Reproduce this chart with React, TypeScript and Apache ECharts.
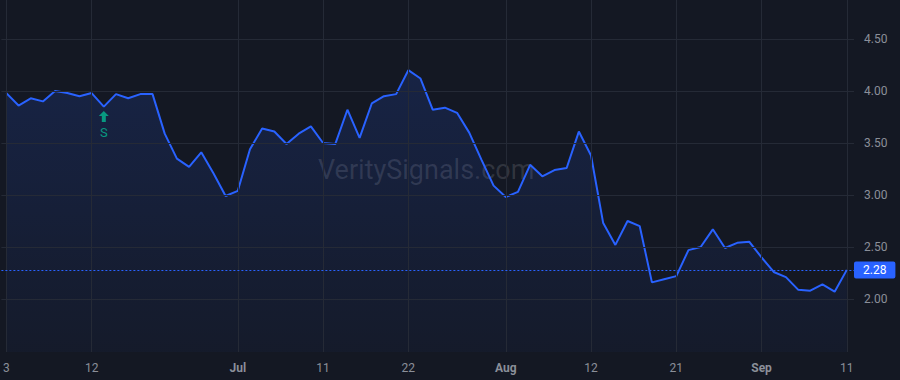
import React, { useEffect, useRef } from "react";
import * as echarts from "echarts";

// Daily closing values (Jun 3 → Sep 11), one per trading day
const values: number[] = [
  3.98, 3.86, 3.93, 3.90, 4.00, 3.98, 3.95, 3.98, 3.85, 3.97, 3.93, 3.97, 3.97,
  3.59, 3.35, 3.27, 3.41, 3.21, 2.99, 3.04, 3.44, 3.64, 3.61, 3.49, 3.59,
  3.66, 3.50, 3.49, 3.82, 3.55, 3.88, 3.95, 3.97, 4.20, 4.12, 3.82, 3.84, 3.79,
  3.60, 3.34, 3.09, 2.98, 3.03, 3.29, 3.18, 3.24, 3.26, 3.61, 3.38,
  2.73, 2.52, 2.75, 2.70, 2.16, 2.19, 2.22, 2.47, 2.50, 2.67, 2.49, 2.54, 2.55,
  2.40, 2.26, 2.21, 2.09, 2.08, 2.14, 2.07, 2.28,
];

// x-axis tick positions (trading-day index) and their labels
const xTickIndex: number[] = [0, 7, 19, 26, 33, 41, 48, 55, 62, 69];
const xTickLabels: string[] = ["3", "12", "Jul", "11", "22", "Aug", "12", "21", "Sep", "11"];
const monthLabels: string[] = ["Jul", "Aug", "Sep"];

// y-axis ticks
const yTicks: number[] = [2.0, 2.5, 3.0, 3.5, 4.0, 4.5];

// signal marker
const signalIndex = 8;
const signalLabel = "S";

const lastValue = values[values.length - 1];

const BG = "#141823";
const GRID = "#252a36";
const BLUE = "#2962ff";
const TEXT = "#8b8f99";
const GREEN = "#089981";

export default function App() {
  const ref = useRef<HTMLDivElement>(null);

  useEffect(() => {
    if (!ref.current) return;
    const chart = echarts.init(ref.current, undefined, { renderer: "svg" });
    const seriesData = values.map((v, i) => [i, v]);

    chart.setOption({
      animation: false,
      backgroundColor: BG,
      textStyle: { fontFamily: "Roboto, 'Liberation Sans', sans-serif" },
      grid: { left: 0, right: 46, top: 0, bottom: 28, containLabel: false },
      xAxis: {
        type: "value",
        min: -0.41,
        max: 69.59,
        axisLine: { show: false },
        axisTick: { show: false },
        splitLine: { show: false },
        axisLabel: {
          customValues: xTickIndex,
          showMinLabel: true,
          showMaxLabel: true,
          margin: 10,
          color: TEXT,
          fontSize: 12,
          formatter: (v: number) => {
            const k = xTickIndex.indexOf(Math.round(v));
            if (k < 0) return "";
            const t = xTickLabels[k];
            return monthLabels.includes(t) ? "{b|" + t + "}" : t;
          },
          rich: { b: { fontWeight: "bold", color: TEXT, fontSize: 12 } },
        },
      },
      yAxis: {
        type: "value",
        position: "right",
        min: 1.4904,
        max: 4.875,
        axisLine: { show: false },
        axisTick: { show: false },
        splitLine: { show: false },
        axisLabel: {
          customValues: yTicks,
          margin: 10,
          color: TEXT,
          fontSize: 12,
          formatter: (v: number) => v.toFixed(2),
        },
      },
      graphic: [
        {
          type: "text",
          left: 318,
          top: 156,
          silent: true,
          z: 0,
          style: {
            text: "VeritySignals.com",
            fill: "rgba(255,255,255,0.13)",
            font: "27px Roboto, 'Liberation Sans', sans-serif",
          },
        },
      ],
      series: [
        {
          name: "grid",
          type: "line",
          z: 1,
          data: seriesData,
          symbol: "none",
          silent: true,
          lineStyle: { opacity: 0 },
          markLine: {
            silent: true,
            symbol: "none",
            label: { show: false },
            lineStyle: { color: GRID, width: 1, type: "solid" },
            data: [
              ...yTicks.map((y) => ({ yAxis: y })),
              ...xTickIndex.map((x) => ({ xAxis: x })),
            ],
          },
        },
        {
          name: "value",
          type: "line",
          z: 3,
          data: seriesData,
          symbol: "none",
          lineStyle: { color: BLUE, width: 2 },
          areaStyle: {
            color: new echarts.graphic.LinearGradient(0, 0, 0, 1, [
              { offset: 0, color: "rgba(41,98,255,0.22)" },
              { offset: 1, color: "rgba(41,98,255,0.05)" },
            ]),
          },
          markLine: {
            silent: true,
            symbol: "none",
            lineStyle: { color: BLUE, width: 1, type: [2, 2] },
            label: {
              show: true,
              position: "end",
              distance: 0,
              formatter: lastValue.toFixed(2),
              backgroundColor: BLUE,
              color: "#ffffff",
              fontSize: 12,
              padding: [3, 9, 2, 9],
              borderRadius: 2,
            },
            data: [{ yAxis: lastValue }],
          },
          markPoint: {
            silent: true,
            data: [
              {
                coord: [signalIndex, values[signalIndex]],
                symbol: "path://M5 0 L10 5 L7 5 L7 11 L3 11 L3 5 L0 5 Z",
                symbolSize: [10, 11],
                symbolOffset: [0, 10],
                itemStyle: { color: GREEN },
                label: {
                  show: true,
                  position: "bottom",
                  distance: 4,
                  formatter: signalLabel,
                  color: GREEN,
                  fontSize: 13,
                },
              },
            ],
          },
        },
      ],
    });

    return () => chart.dispose();
  }, []);

  return (
    <div
      ref={ref}
      style={{ position: "fixed", left: 0, top: 0, width: 900, height: 380 }}
    />
  );
}
